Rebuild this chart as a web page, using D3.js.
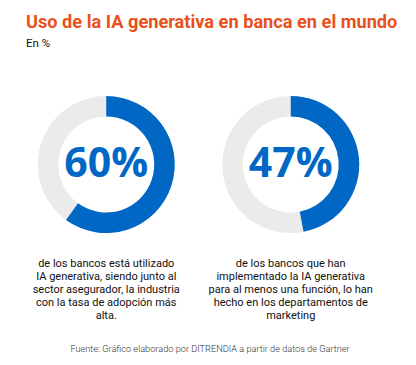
<!DOCTYPE html>
<html>
<head>
<meta charset="utf-8">
<script src="https://cdn.jsdelivr.net/npm/d3@7"></script>
<style>
  body { margin: 0; background: #fff; }
  svg text { font-family: Roboto, "Open Sans", sans-serif; }
</style>
</head>
<body>
<div id="chart"></div>
<script>
// datos
var values = [60, 47];
var descriptions = [
    ["de los bancos está utilizado", "IA generativa, siendo junto al", "sector asegurador, la industria", "con la tasa de adopción más", "alta."],
    ["de los bancos que han", "implementado la IA generativa", "para al menos una función, lo han", "hecho en los departamentos de", "marketing"]
];
var title = "Uso de la IA generativa en banca en el mundo";
var subtitle = "En %";
var source = "Fuente: Gráfico elaborado por DITRENDIA a partir de datos de Gartner";

var width = 416, height = 365;

var svg = d3.select("#chart").append("svg")
    .attr("width", width)
    .attr("height", height);

// Titulo
svg.append("text")
    .attr("x", 26).attr("y", 28)
    .attr("fill", "#e9501c")
    .attr("font-size", 18.2)
    .attr("font-weight", 700)
    .text(title);

svg.append("text")
    .attr("x", 26).attr("y", 47)
    .attr("fill", "#111")
    .attr("font-size", 11.5)
    .text(subtitle);

// Escala de posicion de los donuts
var xScale = d3.scaleBand().domain(d3.range(values.length)).range([14, 383]).padding(0);
var angle = d3.scaleLinear().domain([0, 100]).range([0, 2 * Math.PI]);

var arc = d3.arc().innerRadius(48).outerRadius(68.5);

var g = svg.selectAll(".donut")
    .data(values)
    .enter()
    .append("g")
    .attr("class", "donut")
    .attr("transform", (d, i) => "translate(" + (xScale(i) + xScale.bandwidth() / 2) + ",164.5)");

g.append("path")
    .attr("d", arc({startAngle: 0, endAngle: 2 * Math.PI}))
    .attr("fill", "#ebebeb");

g.append("path")
    .attr("d", d => arc({startAngle: 0, endAngle: angle(d)}))
    .attr("fill", "#0067c5");

g.append("text")
    .attr("text-anchor", "middle")
    .attr("y", 12.5)
    .attr("fill", "#0067c5")
    .attr("font-size", 41)
    .attr("font-weight", 700)
    .style("font-family", "'Open Sans', sans-serif")
    .text(d => d + "%");

// Textos descriptivos
var desc = svg.selectAll(".desc")
    .data(descriptions)
    .enter()
    .append("text")
    .attr("class", "desc")
    .attr("text-anchor", "middle")
    .attr("fill", "#111")
    .attr("font-size", 11);

desc.selectAll("tspan")
    .data((d, i) => d.map(l => ({line: l, i: i})))
    .enter()
    .append("tspan")
    .attr("x", d => xScale(d.i) + xScale.bandwidth() / 2)
    .attr("y", (d, j) => 267 + j * 13)
    .text(d => d.line);

svg.append("text")
    .attr("x", 210).attr("y", 352)
    .attr("text-anchor", "middle")
    .attr("fill", "#333")
    .attr("font-size", 9.2)
    .attr("font-weight", 300)
    .text(source);
</script>
</body>
</html>
